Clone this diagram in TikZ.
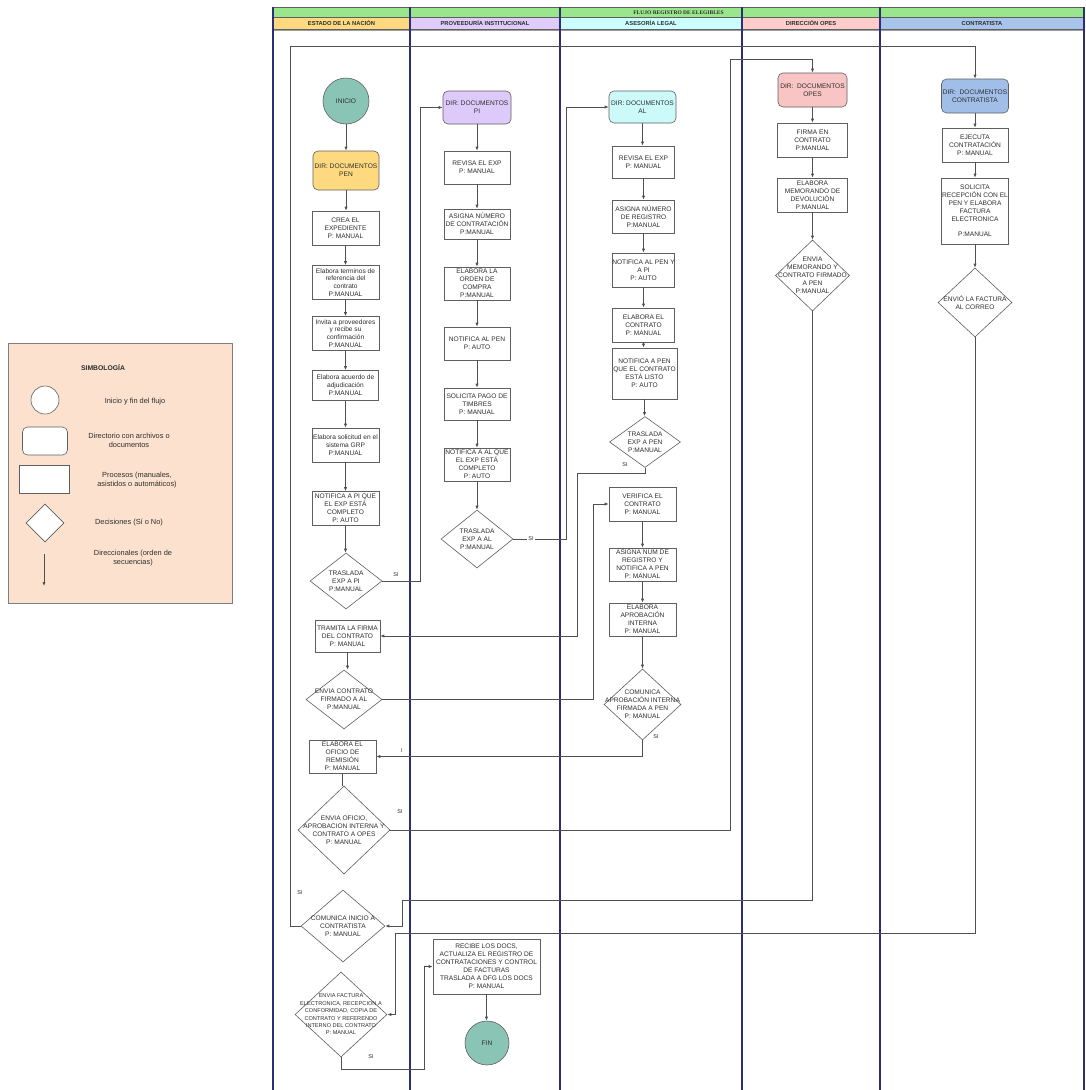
\documentclass[tikz,border=0pt]{standalone}
\usepackage{fontspec}
\setmainfont{Liberation Sans}
\newfontfamily\serifhead{Liberation Serif}
\usetikzlibrary{shapes.geometric,arrows.meta}
\definecolor{txt}{RGB}{45,45,45}
\definecolor{bord}{RGB}{95,95,95}
\definecolor{lnc}{RGB}{80,80,80}
\definecolor{navy}{RGB}{45,45,120}
\definecolor{termc}{RGB}{138,196,180}
\definecolor{penc}{RGB}{255,217,128}
\definecolor{pic}{RGB}{221,202,250}
\definecolor{alc}{RGB}{204,250,250}
\definecolor{opec}{RGB}{248,196,196}
\definecolor{conc}{RGB}{160,190,232}
\definecolor{h1}{RGB}{255,217,128}
\definecolor{h2}{RGB}{224,204,250}
\definecolor{h3}{RGB}{204,255,255}
\definecolor{h4}{RGB}{255,204,204}
\definecolor{h5}{RGB}{169,196,235}
\definecolor{titlec}{RGB}{153,230,140}
\definecolor{legc}{RGB}{252,226,206}
\tikzset{
 base/.style={font=\fontsize{6.6}{7.9}\selectfont, text=txt, align=center},
 sz/.style 2 args={minimum width=#1pt, minimum height=#2pt},
 proc/.style={base, draw=bord, fill=white, rectangle, inner sep=0pt, line width=0.6pt},
 dirn/.style={proc, rounded corners=5pt},
 term/.style={base, circle, draw=bord, inner sep=0pt, fill=termc, line width=0.6pt},
 dec/.style={diamond, draw=bord, fill=white, inner sep=0pt, line width=0.6pt},
 dtxt/.style={base, inner sep=0pt},
 arr/.style={draw=lnc, line width=0.7pt, -{Latex[length=4pt,width=3.2pt]}},
 ln/.style={draw=lnc, line width=0.7pt},
 lbl/.style={font=\fontsize{5.5}{6}\selectfont, text=txt, inner sep=1pt},
 lane/.style={draw=navy, line width=1.2pt},
 hdr/.style={font=\fontsize{5.8}{6}\selectfont\bfseries, text=txt, inner sep=0pt},
 legt/.style={font=\fontsize{7.4}{9}\selectfont, text=txt, align=center},
}
\begin{document}
\begin{tikzpicture}[x=1pt,y=-1pt]
\useasboundingbox[fill=white] (0,0) rectangle (1086,1090);

% ---------- header ----------
\draw[bord, fill=titlec, line width=0.5pt] (273,7) rectangle (1084,17);
\draw[bord, fill=h1, line width=0.5pt] (273,17) rectangle (410,29);
\draw[bord, fill=h2, line width=0.5pt] (410,17) rectangle (560,29);
\draw[bord, fill=h3, line width=0.5pt] (560,17) rectangle (742,29);
\draw[bord, fill=h4, line width=0.5pt] (742,17) rectangle (880,29);
\draw[bord, fill=h5, line width=0.5pt] (880,17) rectangle (1084,29);
\node[font=\serifhead\fontsize{5.5}{6}\selectfont\bfseries, text=txt, inner sep=0pt] (title) at (678.5,12.3) {FLUJO REGISTRO DE ELEGIBLES};
\node[hdr] (hd1) at (341.5,23.3) {ESTADO DE LA NACIÓN};
\node[hdr] (hd2) at (485,23.3) {PROVEEDURÍA INSTITUCIONAL};
\node[hdr] (hd3) at (651,23.3) {ASESORÍA LEGAL};
\node[hdr] (hd4) at (811,23.3) {DIRECCIÓN OPES};
\node[hdr] (hd5) at (982,23.3) {CONTRATISTA};
\draw[draw=bord!60, line width=0.5pt] (273,30) -- (1084,30);
\foreach \xx in {273,410,560,742,880,1084} \draw[lane] (\xx,7) -- (\xx,1090);

% ---------- legend ----------
\draw[draw=bord!80, fill=legc, line width=0.6pt] (8,343) rectangle (232,603);
\node[font=\fontsize{6.8}{8}\selectfont\bfseries, text=txt] (legtitle) at (103,368) {SIMBOLOGÍA};
\node[circle, draw=bord, fill=white, inner sep=0pt, minimum size=28pt, line width=0.6pt] (legcirc) at (45,400) {};
\node[rectangle, rounded corners=5pt, draw=bord, fill=white, sz={45}{28}, line width=0.6pt] (legdir) at (45,441) {};
\node[rectangle, draw=bord, fill=white, sz={50}{28}, line width=0.6pt] (legproc) at (44,479) {};
\node[dec, sz={38}{38}] (legdec) at (45,523) {};
\coordinate (legA) at (44,554);
\coordinate (legB) at (44,586);
\draw[arr] (legA) -- (legB);
\node[legt] (legt1) at (135,402) {Inicio y fin del flujo};
\node[legt] (legt2) at (129,440) {Directorio con archivos o\\documentos};
\node[legt] (legt3) at (137,480) {Procesos (manuales,\\asistidos o automáticos)};
\node[legt] (legt4) at (129,523) {Decisiones (Sí o No)};
\node[legt] (legt5) at (133,558) {Direccionales (orden de\\secuencias)};

% ---------- lane 1: Estado de la Nación ----------
\node[term, minimum size=46pt] (inicio) at (346,101) {INICIO};
\node[dirn, fill=penc, sz={66}{39}] (dirpen) at (346,170.5) {DIR: DOCUMENTOS\\PEN};
\node[proc, sz={67}{34}] (crea) at (345.5,228) {CREA EL\\EXPEDIENTE\\P: MANUAL};
\node[proc, sz={67}{34}] (terminos) at (345.5,282.5) {Elabora terminos de\\referencia del\\contrato\\P:MANUAL};
\node[proc, sz={67}{34}] (invita) at (345.5,333.5) {Invita a proveedores\\y recibe su\\confirmación\\P:MANUAL};
\node[proc, sz={66}{30}] (acuerdo) at (345.5,385.5) {Elabora acuerdo de\\adjudicación\\P:MANUAL};
\node[proc, sz={67}{34}] (solicitud) at (345.5,445) {Elabora solicitud en el\\sistema GRP\\P:MANUAL};
\node[proc, sz={67}{34}] (notpi) at (345.5,508.5) {NOTIFICA A PI QUE\\EL EXP ESTÁ\\COMPLETO\\P: AUTO};
\node[dec, sz={72}{56}] (d1) at (346,581) {};
\node[dtxt] (d1t) at (346,581) {TRASLADA\\EXP A PI\\P:MANUAL};
\node[proc, sz={65}{32}] (tramita) at (347.5,636) {TRAMITA LA FIRMA\\DEL CONTRATO\\P: MANUAL};
\node[dec, sz={76}{59}] (d2) at (344,699.5) {};
\node[dtxt] (d2t) at (344,699.5) {ENVIA CONTRATO\\FIRMADO A AL\\P:MANUAL};
\node[proc, sz={67}{33}] (oficio) at (342.5,756.5) {ELABORA EL\\OFICIO DE\\REMISIÓN\\P: MANUAL};
\node[dec, sz={92}{88}] (d3) at (344,830) {};
\node[dtxt] (d3t) at (344,830) {ENVIA OFICIO,\\APROBACION INTERNA Y\\CONTRATO A OPES\\P: MANUAL};
\node[dec, sz={84}{72}] (d8) at (343,926) {};
\node[dtxt] (d8t) at (343,926) {COMUNICA INICIO A\\CONTRATISTA\\P: MANUAL};
\node[dec, sz={92}{85}] (d10) at (341,1014.5) {};
\node[dtxt, font=\fontsize{5.6}{7.4}\selectfont] (d10t) at (341,1014.5) {ENVIA FACTURA\\ELECTRONICA, RECEPCION A\\CONFORMIDAD, COPIA DE\\CONTRATO Y REFERENDO\\INTERNO DEL CONTRATO\\P: MANUAL};

% ---------- lane 2: Proveeduría ----------
\node[dirn, fill=pic, sz={68}{33}] (dirpi) at (477,107.5) {DIR: DOCUMENTOS\\PI};
\node[proc, sz={66}{33}] (revpi) at (477,167.5) {REVISA EL EXP\\P: MANUAL};
\node[proc, sz={66}{30}] (asigpi) at (477,224) {ASIGNA NÚMERO\\DE CONTRATACIÓN\\P:MANUAL};
\node[proc, sz={66}{33}] (ordenpi) at (477,283.5) {ELABORA LA\\ORDEN DE\\COMPRA\\P:MANUAL};
\node[proc, sz={66}{33}] (notpen) at (477,343.5) {NOTIFICA AL PEN\\P: AUTO};
\node[proc, sz={66}{32}] (pago) at (477,404) {SOLICITA PAGO DE\\TIMBRES\\P: MANUAL};
\node[proc, sz={66}{33}] (notal) at (477,464.5) {NOTIFICA A AL QUE\\EL EXP ESTÁ\\COMPLETO\\P: AUTO};
\node[dec, sz={72}{58}] (d4) at (477,539) {};
\node[dtxt] (d4t) at (477,539) {TRASLADA\\EXP A AL\\P:MANUAL};
\node[proc, sz={107}{55}, font=\fontsize{6.6}{8}\selectfont] (recibe) at (486.5,966.5) {RECIBE LOS DOCS,\\ACTUALIZA EL REGISTRO DE\\CONTRATACIONES Y CONTROL\\DE FACTURAS\\TRASLADA A DFG LOS DOCS\\P: MANUAL};
\node[term, minimum size=44pt] (fin) at (487,1043) {FIN};

% ---------- lane 3: Asesoría Legal ----------
\node[dirn, fill=alc, sz={67}{32}] (diral) at (642.5,107) {DIR: DOCUMENTOS\\AL};
\node[proc, sz={62}{32}] (reval) at (643.5,162) {REVISA EL EXP\\P: MANUAL};
\node[proc, sz={62}{33}] (asigreg) at (643.5,216.5) {ASIGNA NÚMERO\\DE REGISTRO\\P:MANUAL};
\node[proc, sz={62}{34}] (notpenpi) at (643.5,270) {NOTIFICA AL PEN Y\\A PI\\P: AUTO};
\node[proc, sz={62}{34}] (elabcont) at (643.5,325) {ELABORA EL\\CONTRATO\\P: MANUAL};
\node[proc, sz={65}{51}] (notpenq) at (644.5,373.5) {NOTIFICA A PEN\\QUE EL CONTRATO\\ESTÁ LISTO\\P: AUTO};
\node[dec, sz={71}{51}] (d5) at (645,442) {};
\node[dtxt] (d5t) at (645,442) {TRASLADA\\EXP A PEN\\P:MANUAL};
\node[proc, sz={67}{34}] (verif) at (642.5,504) {VERIFICA EL\\CONTRATO\\P: MANUAL};
\node[proc, sz={67}{33}] (asignr2) at (642.5,564.5) {ASIGNA NUM DE\\REGISTRO Y\\NOTIFICA A PEN\\P: MANUAL};
\node[proc, sz={67}{33}] (aprob) at (642.5,619.5) {ELABORA\\APROBACIÓN\\INTERNA\\P: MANUAL};
\node[dec, sz={77}{71}] (d6) at (642.5,704.5) {};
\node[dtxt] (d6t) at (642.5,704.5) {COMUNICA\\APROBACIÓN INTERNA\\FIRMADA A PEN\\P: MANUAL};

% ---------- lane 4: Dirección OPES ----------
\node[dirn, fill=opec, sz={69}{34}] (dirope) at (812.5,90) {DIR:\ \ DOCUMENTOS\\OPES};
\node[proc, sz={70}{34}] (firma) at (812.5,140) {FIRMA EN\\CONTRATO\\P:MANUAL};
\node[proc, sz={70}{34}] (memo) at (812.5,195) {ELABORA\\MEMORANDO DE\\DEVOLUCIÓN\\P:MANUAL};
\node[dec, sz={74}{71}] (d7) at (812.5,275.5) {};
\node[dtxt] (d7t) at (812.5,275.5) {ENVIA\\MEMORANDO Y\\CONTRATO FIRMADO\\A PEN\\P:MANUAL};

% ---------- lane 5: Contratista ----------
\node[dirn, fill=conc, sz={67}{34}] (dircon) at (975,96) {DIR:\ \ DOCUMENTOS\\CONTRATISTA};
\node[proc, sz={66}{34}] (ejecuta) at (975,145) {EJECUTA\\CONTRATACIÓN\\P: MANUAL};
\node[proc, sz={67}{66}] (solic) at (975,211) {SOLICITA\\RECEPCIÓN CON EL\\PEN Y ELABORA\\FACTURA\\ELECTRONICA\\[7.9pt]P:MANUAL};
\node[dec, sz={74}{69}] (d9) at (975,302.5) {};
\node[dtxt] (d9t) at (975,302.5) {ENVIÓ LA FACTURA\\AL CORREO};

% ---------- sequential arrows ----------
\foreach \a/\b in {inicio/dirpen, dirpen/crea, crea/terminos, terminos/invita, invita/acuerdo, acuerdo/solicitud, solicitud/notpi, notpi/d1, tramita/d2,
  dirpi/revpi, revpi/asigpi, asigpi/ordenpi, ordenpi/notpen, notpen/pago, pago/notal, notal/d4, recibe/fin,
  diral/reval, reval/asigreg, asigreg/notpenpi, notpenpi/elabcont, elabcont/notpenq, notpenq/d5, verif/asignr2, asignr2/aprob, aprob/d6,
  dirope/firma, firma/memo, memo/d7, dircon/ejecuta, ejecuta/solic, solic/d9}
  \draw[arr] (\a.south) -- (\a.south |- \b.north);
\draw[ln] (oficio.south) -- (oficio.south |- d3.north);

% ---------- cross-lane connectors ----------
\draw[arr] (d1.east) -- (420,581) |- (dirpi.west);
\node[lbl] (si1) at (396,575) {SI};
\draw[arr] (d4.east) -- (566,539) |- (diral.west);
\node[lbl, fill=white] (si2) at (531,539) {SI};
\draw[arr] (d5.south) -- (645,473) -- (577,473) |- (tramita.east);
\node[lbl] (si3) at (625,465) {SI};
\draw[arr] (d2.east) -- (593,699.5) |- (verif.west);
\draw[arr] (d6.south) |- (oficio.east);
\node[lbl] (si4) at (656,737) {SI};
\node[lbl] (si5) at (402,751) {I};
\draw[arr] (d3.east) -- (730,830) -- (730,59) -| (dirope.north);
\node[lbl] (si6) at (400,812) {SI};
\draw[arr] (d7.south) -- (812.5,900) -- (402,900) |- (d8.east);
\draw[arr] (d9.south) -- (975,933) -- (395,933) |- (d10.east);
\draw[arr] (d8.west) -- (290,926) -- (290,46) -| (dircon.north);
\node[lbl] (si7) at (300,893) {SI};
\draw[arr] (d10.south) -- (341,1069) -- (424,1069) |- (recibe.west);
\node[lbl] (si8) at (371,1057) {SI};
\end{tikzpicture}
\end{document}
